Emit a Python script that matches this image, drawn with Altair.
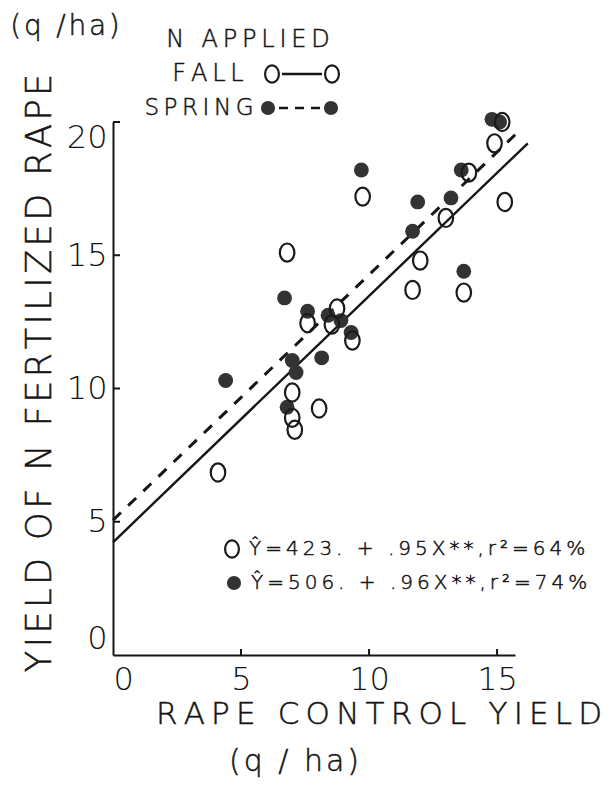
import altair as alt
import pandas as pd

FONT = "DejaVu Sans"
FW = 200
INK = "#151515"
THIN = "\u2009"
HAIR = "\u200a"

# ---- data ----
fall_x = [4.1, 6.8, 7.0, 7.0, 7.1, 8.05, 7.6, 8.55, 8.75, 9.35, 9.75, 11.7, 12.0, 13.0, 13.7, 13.9, 14.9, 15.3, 15.2]
fall_y = [6.85, 15.1, 9.85, 8.9, 8.45, 9.25, 12.45, 12.4, 13.0, 11.8, 17.2, 13.7, 14.8, 16.4, 13.6, 18.1, 19.2, 17.0, 20.0]
spring_x = [4.4, 6.7, 6.8, 7.0, 7.15, 7.6, 8.15, 8.4, 8.9, 9.3, 9.7, 11.7, 11.9, 13.2, 13.6, 13.7, 14.8, 15.1]
spring_y = [10.3, 13.4, 9.3, 11.05, 10.6, 12.9, 11.15, 12.75, 12.55, 12.1, 18.2, 15.9, 17.0, 17.15, 18.2, 14.4, 20.1, 20.0]

# regression lines as drawn (end points)
fall_line_x = [0, 16.2]
fall_line_y = [4.23, 19.2]
spring_line_x = [0, 15.9]
spring_line_y = [5.06, 19.7]

x_ticks = [0, 5, 10, 15]
y_ticks = [0, 5, 10, 15, 20]
x_minor = [5, 10, 15]
y_minor = [5, 10, 15, 20]

W, H = 402, 533
OPEN_SHAPE = "M0,-1A0.8,1,0,1,1,0,1A0.8,1,0,1,1,0,-1Z"

xs = alt.Scale(domain=[0, 15.7], nice=False, zero=False)
ys = alt.Scale(domain=[0, 20], nice=False, zero=False)


def spaced(s, sep):
    return sep.join(list(s))


xax = alt.Axis(values=x_ticks, title=None, grid=False, ticks=False, labelFont=FONT,
               labelFontWeight=FW, labelFontSize=32, labelColor=INK, labelPadding=9,
               labelFlush=True, domainColor=INK, domainWidth=2)
yax = alt.Axis(values=y_ticks, title=None, grid=False, ticks=False, labelFont=FONT,
               labelFontWeight=FW, labelFontSize=32, labelColor=INK, labelPadding=6,
               labelFlush=True, domainColor=INK, domainWidth=2)

fall_df = pd.DataFrame({"x": fall_x, "y": fall_y})
spring_df = pd.DataFrame({"x": spring_x, "y": spring_y})

base_axes = alt.Chart(pd.DataFrame({"x": [0], "y": [0]})).mark_point(opacity=0).encode(
    x=alt.X("x:Q", scale=xs, axis=xax), y=alt.Y("y:Q", scale=ys, axis=yax))

fall_line = alt.Chart(pd.DataFrame({"x": fall_line_x, "y": fall_line_y})).mark_line(
    color=INK, strokeWidth=2.4).encode(x=alt.X("x:Q", scale=xs), y=alt.Y("y:Q", scale=ys))
spring_line = alt.Chart(pd.DataFrame({"x": spring_line_x, "y": spring_line_y})).mark_line(
    color=INK, strokeWidth=3, strokeDash=[11, 10]).encode(x=alt.X("x:Q", scale=xs), y=alt.Y("y:Q", scale=ys))

spring_pts = alt.Chart(spring_df).mark_point(shape="circle", filled=True, size=220,
                                              color="#333333", opacity=1).encode(
    x=alt.X("x:Q", scale=xs), y=alt.Y("y:Q", scale=ys))
fall_pts = alt.Chart(fall_df).mark_point(shape=OPEN_SHAPE, filled=False, size=330,
                                          color="#1a1a1a", strokeWidth=2.2, opacity=1).encode(
    x=alt.X("x:Q", scale=xs), y=alt.Y("y:Q", scale=ys))

xt = alt.Chart(pd.DataFrame({"v": x_minor})).mark_rule(color=INK, strokeWidth=2).encode(
    x=alt.X("v:Q", scale=xs), y=alt.value(H), y2=alt.value(H - 6))
yt = alt.Chart(pd.DataFrame({"v": y_minor})).mark_rule(color=INK, strokeWidth=2).encode(
    y=alt.Y("v:Q", scale=ys), x=alt.value(0), x2=alt.value(7))


def text_layer(txt, x, y, size, align="center", angle=0):
    return alt.Chart(pd.DataFrame({"t": [txt]})).mark_text(
        font=FONT, fontWeight=FW, fontSize=size, align=align, baseline="middle",
        angle=angle, color=INK, stroke=INK, strokeWidth=0.5
    ).encode(text="t:N", x=alt.value(x), y=alt.value(y))


def open_mark(x, y, size=330):
    return alt.Chart(pd.DataFrame({"k": [1]})).mark_point(
        shape=OPEN_SHAPE, filled=False, size=size, color="#1a1a1a", strokeWidth=2.2, opacity=1
    ).encode(x=alt.value(x), y=alt.value(y))


def filled_mark(x, y, size=220):
    return alt.Chart(pd.DataFrame({"k": [1]})).mark_point(
        shape="circle", filled=True, size=size, color="#333333", opacity=1
    ).encode(x=alt.value(x), y=alt.value(y))


def seg(x1, x2, y, dash=None):
    kw = dict(color=INK, strokeWidth=2.5)
    if dash:
        kw["strokeDash"] = dash
    return alt.Chart(pd.DataFrame({"k": [1]})).mark_rule(**kw).encode(
        x=alt.value(x1), x2=alt.value(x2), y=alt.value(y))


annot = [
    text_layer(spaced("(q /ha)", HAIR), -48, -95, 28),
    text_layer(spaced("N APPLIED", THIN), 135, -82, 24),
    text_layer(spaced("FALL", THIN), 95, -48, 24),
    open_mark(159, -48, 300), seg(169, 209, -48), open_mark(219, -48, 300),
    text_layer(spaced("SPRING", THIN), 86, -14, 23),
    filled_mark(155, -14, 200), seg(166, 208, -14, [9, 7]), filled_mark(218, -14, 200),
    text_layer(spaced("YIELD OF N FERTILIZED RAPE", HAIR), -73, 251, 35, angle=270),
    text_layer(spaced("RAPE CONTROL YIELD", THIN), 266, 593, 31),
    text_layer(spaced("(q / ha)", HAIR), 181, 640, 30),
    open_mark(119, 427, 300),
    text_layer(spaced("Ŷ=423. + .95X**,r²=64%", THIN), 136, 427, 20, align="left"),
    filled_mark(121, 461, 200),
    text_layer(spaced("Ŷ=506. + .96X**,r²=74%", THIN), 138, 461, 20, align="left"),
]

chart = alt.layer(base_axes, xt, yt, fall_line, spring_line, spring_pts, fall_pts, *annot).properties(
    width=W, height=H,
    autosize=alt.AutoSizeParams(type="none"),
    padding={"left": 105, "top": 114, "right": 87, "bottom": 123},
    background="white",
).configure_view(stroke=None)

chart.save("out.html", embed_options={"renderer": "svg", "actions": False})
